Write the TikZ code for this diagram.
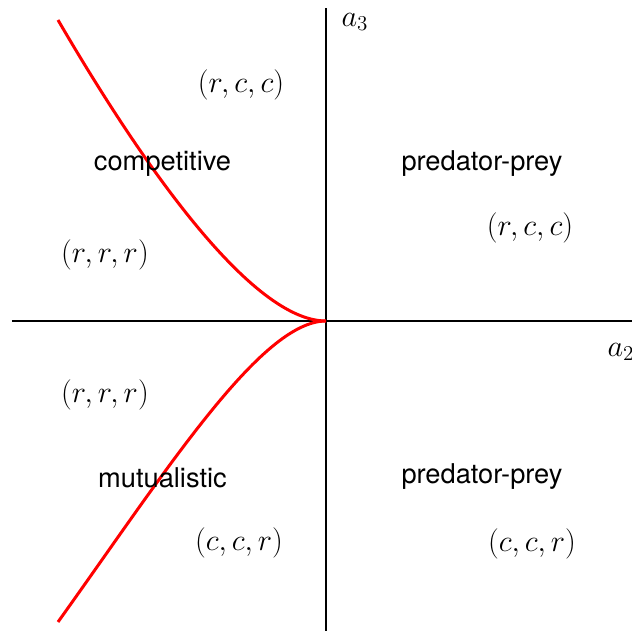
\documentclass[tikz,border=0pt]{standalone}
\usepackage{fontspec}
\setsansfont{TeX Gyre Heros}
\begin{document}
\begin{tikzpicture}[
    axis/.style={line width=0.85pt},
    bound/.style={red,line width=1.7pt},
    region/.style={font=\fontsize{15.5}{18}\sffamily},
    triple/.style={font=\fontsize{16.8}{20}\selectfont}
]
\useasboundingbox (-6.52,-6.2) rectangle (6.12,6.42);
\coordinate (o) at (0,0);
\coordinate (xl) at (-6.28,0);
\coordinate (xr) at (6.3,0);
\coordinate (yb) at (0,-6.3);
\coordinate (yt) at (0,6.26);
\coordinate (up) at (-5.36,6.02);
\coordinate (dn) at (-5.36,-6.02);
% axes
\draw[axis] (xl) -- (xr);
\draw[axis] (yb) -- (yt);
\node[triple] (a3) at (0.58,5.98) {$a_3$};
\node[triple] (a2) at (5.9,-0.62) {$a_2$};
% boundary curves
\draw[bound] (o) .. controls (-1.6,0) and (-3.95,3.6) .. (up);
\draw[bound] (o) .. controls (-1.3,0) and (-3.2,-3.0) .. (dn);
% upper half
\node[triple] (rcc1) at (-1.7,4.72) {$(r,c,c)$};
\node[region] (comp) at (-3.27,3.14) {competitive};
\node[triple] (rrr1) at (-4.42,1.32) {$(r,r,r)$};
\node[region] (pp1) at (3.12,3.14) {predator-prey};
\node[triple] (rcc2) at (4.08,1.86) {$(r,c,c)$};
% lower half
\node[triple] (rrr2) at (-4.42,-1.48) {$(r,r,r)$};
\node[region] (mutu) at (-3.27,-3.13) {mutualistic};
\node[triple] (ccr1) at (-1.74,-4.44) {$(c,c,r)$};
\node[region] (pp2) at (3.12,-3.12) {predator-prey};
\node[triple] (ccr2) at (4.12,-4.46) {$(c,c,r)$};
\end{tikzpicture}
\end{document}
